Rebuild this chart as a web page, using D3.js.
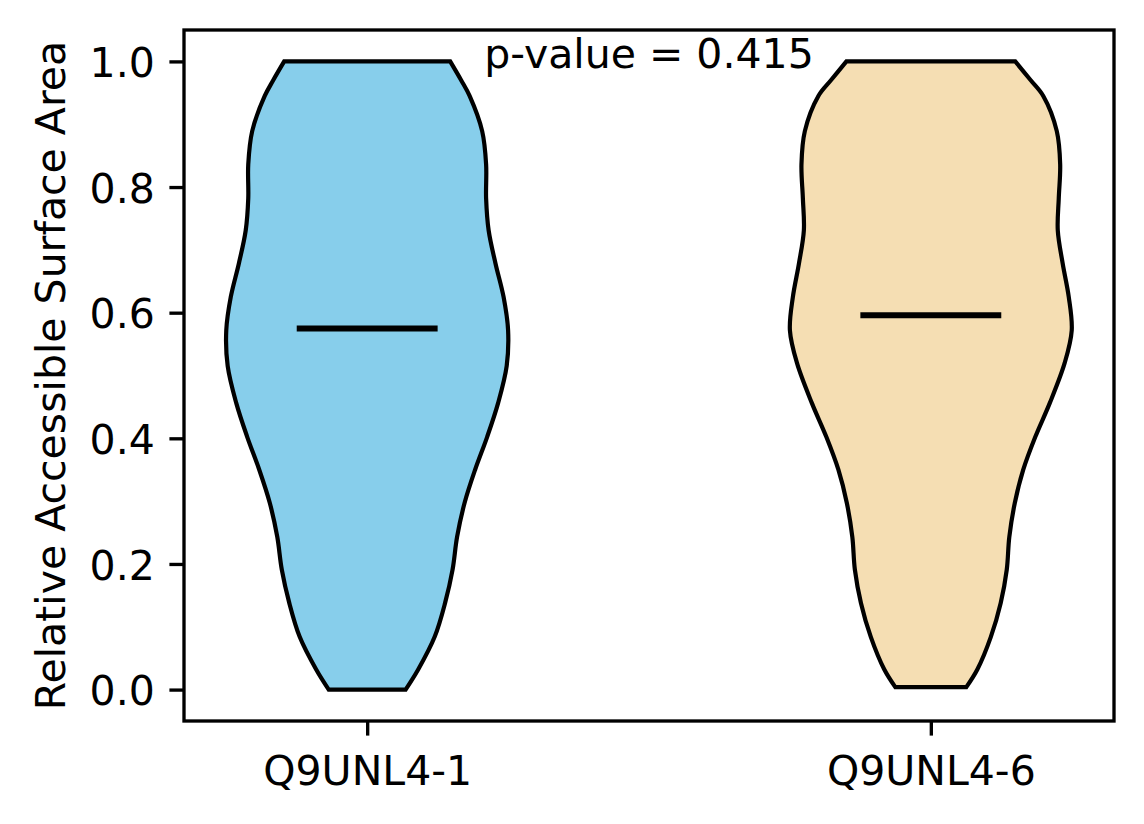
<!DOCTYPE html>
<html>
<head>
<meta charset="utf-8">
<script src="https://cdn.jsdelivr.net/npm/d3@7"></script>
<style>
  html, body { margin: 0; padding: 0; background: #fff; }
  svg { display: block; }
  text { font-family: "DejaVu Sans", sans-serif; }
</style>
</head>
<body>
<div id="grafica"></div>
<script>
// ==============================
// DATOS
// ==============================

const grupos = ["Q9UNL4-1", "Q9UNL4-6"];
const posiciones = [1, 2];
const colores = ["#87CEEB", "#F5DEB3"];
const medianas = [0.575, 0.596];
const pValor = 0.415;
const yTicks = [0.0, 0.2, 0.4, 0.6, 0.8, 1.0];

// perfil de densidad (relativa al máximo) a lo largo del valor
const valores1 = [1.000, 0.970, 0.945, 0.889, 0.836, 0.782, 0.731, 0.678, 0.625, 0.572, 0.515, 0.456, 0.402, 0.350, 0.297, 0.243, 0.191, 0.138, 0.084, 0.032, 0.000];
const densidad1 = [0.589, 0.667, 0.727, 0.816, 0.844, 0.844, 0.862, 0.911, 0.968, 1.000, 0.990, 0.929, 0.851, 0.766, 0.691, 0.638, 0.606, 0.553, 0.479, 0.362, 0.273];

const valores2 = [1.000, 0.970, 0.945, 0.889, 0.836, 0.782, 0.731, 0.678, 0.625, 0.572, 0.520, 0.456, 0.402, 0.350, 0.297, 0.243, 0.191, 0.138, 0.084, 0.032, 0.004];
const densidad2 = [0.599, 0.709, 0.798, 0.894, 0.918, 0.908, 0.901, 0.936, 0.979, 1.000, 0.950, 0.844, 0.741, 0.656, 0.596, 0.557, 0.539, 0.496, 0.426, 0.330, 0.252];

// ==============================
// CONFIGURACIÓN
// ==============================

const W = 1144, H = 824;
const margen = { left: 184, right: 30, top: 30, bottom: 103 };
const FONT = 41;
const LW_EJE = 3.33;
const TICK = 14.6;
const ANCHO = 0.5; // ancho del violín en unidades de x

const svg = d3.select("#grafica").append("svg")
  .attr("width", W)
  .attr("height", H);

const x = d3.scaleLinear()
  .domain([0.675, 2.325])
  .range([margen.left, W - margen.right]);

const y = d3.scaleLinear()
  .domain([-0.05, 1.05])
  .range([H - margen.bottom, margen.top]);

// ==============================
// VIOLINES
// ==============================

const perfiles = [
  valores1.map((v, i) => ({ v, d: densidad1[i] })),
  valores2.map((v, i) => ({ v, d: densidad2[i] }))
];

perfiles.forEach((perfil, k) => {
  const pos = posiciones[k];
  const area = d3.area()
    .y(p => y(p.v))
    .x0(p => x(pos - p.d * ANCHO / 2))
    .x1(p => x(pos + p.d * ANCHO / 2))
    .curve(d3.curveCatmullRom);

  svg.append("path")
    .datum(perfil)
    .attr("d", area)
    .attr("fill", colores[k])
    .attr("stroke", "#000")
    .attr("stroke-width", 4.2)
    .attr("stroke-linejoin", "miter");
});

// Medianas
svg.append("g")
  .selectAll("line")
  .data(medianas)
  .join("line")
  .attr("x1", (d, i) => x(posiciones[i] - ANCHO / 4))
  .attr("x2", (d, i) => x(posiciones[i] + ANCHO / 4))
  .attr("y1", d => y(d))
  .attr("y2", d => y(d))
  .attr("stroke", "#000")
  .attr("stroke-width", 6);

// ==============================
// EJES
// ==============================

const ejeY = svg.append("g")
  .attr("transform", `translate(${margen.left},0)`)
  .call(d3.axisLeft(y).tickValues(yTicks).tickFormat(d3.format(".1f")).tickSize(TICK).tickPadding(TICK));

const ejeX = svg.append("g")
  .attr("transform", `translate(0,${H - margen.bottom})`)
  .call(d3.axisBottom(x).tickValues(posiciones).tickFormat((d, i) => grupos[i]).tickSize(TICK).tickPadding(TICK));

[ejeY, ejeX].forEach(eje => {
  eje.select(".domain").remove();
  eje.selectAll(".tick line").attr("stroke", "#000").attr("stroke-width", LW_EJE);
  eje.selectAll(".tick text")
    .attr("fill", "#000")
    .style("font-family", "'DejaVu Sans', sans-serif")
    .style("font-size", FONT + "px");
});

ejeY.selectAll(".tick text").attr("dy", "0.37em");
ejeX.selectAll(".tick text").attr("dy", null).attr("y", 64);

// Marco
svg.append("rect")
  .attr("x", margen.left)
  .attr("y", margen.top)
  .attr("width", W - margen.left - margen.right)
  .attr("height", H - margen.top - margen.bottom)
  .attr("fill", "none")
  .attr("stroke", "#000")
  .attr("stroke-width", LW_EJE);

// Etiqueta eje Y
svg.append("text")
  .attr("transform", `translate(65,${(margen.top + H - margen.bottom) / 2}) rotate(-90)`)
  .attr("text-anchor", "middle")
  .style("font-size", FONT + "px")
  .text("Relative Accessible Surface Area");

// p-value
svg.append("text")
  .attr("x", x(1.5))
  .attr("y", y(0.99))
  .attr("text-anchor", "middle")
  .style("font-size", FONT + "px")
  .text(`p-value = ${pValor.toFixed(3)}`);
</script>
</body>
</html>
